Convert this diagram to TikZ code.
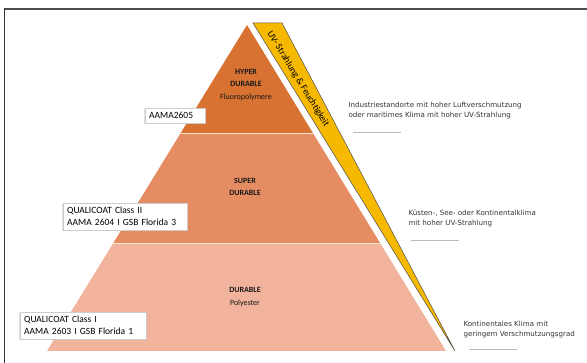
\documentclass[tikz,border=0pt]{standalone}
\usepackage{fontspec}
\setmainfont{Carlito}
\newfontfamily\zonefont{DejaVu Sans}
\usetikzlibrary{shadows}

\definecolor{hypercol}{RGB}{215,114,50}
\definecolor{supercol}{RGB}{229,140,98}
\definecolor{durablecol}{RGB}{241,179,155}
\definecolor{uvcol}{RGB}{247,184,0}

\begin{document}
\begin{tikzpicture}[x=1pt, y=-1pt,
  spec/.style={draw=gray!40, fill=white, anchor=north west, align=left,
    inner xsep=4pt, inner ysep=2pt, font=\fontsize{9.5}{12}\selectfont,
    drop shadow={shadow xshift=-0.8pt, shadow yshift=-0.8pt, fill=gray!50}},
  tier/.style={align=center, text=black!90, font=\bfseries\fontsize{8}{12.5}\selectfont},
  zone/.style={anchor=west, align=left, text=black!80, font=\zonefont\fontsize{7.1}{10}\selectfont},
  rule/.style={gray!55, line width=1pt}]

\useasboundingbox (0,0) rectangle (587,363);

% Frame
\draw[gray!60!black, line width=1.5pt] (4,9) -- (587,9);
\draw[black!80, line width=1pt] (4,9) -- (4,363);

% Pyramid
\fill[durablecol] (113.3,243) -- (380.1,243) -- (446,351) -- (47,351) -- cycle;
\fill[supercol] (180.7,133) -- (312.9,133) -- (380.1,243) -- (113.3,243) -- cycle;
\fill[hypercol] (247,25) -- (312.9,133) -- (180.7,133) -- cycle;
\draw[orange!20, line width=0.6pt] (180.7,133) -- (312.9,133);
\draw[orange!20, line width=0.6pt] (113.3,243) -- (380.1,243);

% Stripe
\filldraw[fill=uvcol, draw=gray!60!black, line width=0.5pt]
  (253,23) -- (282,23) -- (455,351) -- cycle;
\node[rotate=-58.5, font=\fontsize{9.5}{11}\selectfont] (uv) at (298,79)
  {UV- Strahlung \& Feuchtigkeit};

% Tiers
\node[tier] (hyper) at (246,85) {HYPER\\DURABLE\\{\mdseries Fluoropolymere}};
\node[tier] (super) at (245,187) {SUPER\\DURABLE};
\node[tier] (durable) at (245,297) {DURABLE\\{\mdseries Polyester}};

% Specifications
\node[spec, text width=52pt, minimum height=15pt] (aama) at (145,108) {AAMA2605};
\node[spec, text width=116pt, minimum height=27pt] (qualb) at (63,203)
  {QUALICOAT Class II\\AAMA 2604 I GSB Florida 3};
\node[spec, text width=118pt, minimum height=27pt] (quala) at (20,312)
  {QUALICOAT Class I\\AAMA 2603 I GSB Florida 1};

% Climates
\node[zone] (industrie) at (345,111)
  {Industriestandorte mit hoher Luftverschmutzung\\oder maritimes Klima mit hoher UV-Strahlung};
\draw[rule] (353,133) -- (401,133);
\node[zone] (kueste) at (405,219)
  {Küsten-, See- oder Kontinentalklima\\mit hoher UV-Strahlung};
\draw[rule] (411,241) -- (459,241);
\node[zone] (kontinent) at (460,330)
  {Kontinentales Klima mit\\geringem Verschmutzungsgrad};
\draw[rule] (469,350) -- (517,350);

\end{tikzpicture}
\end{document}
